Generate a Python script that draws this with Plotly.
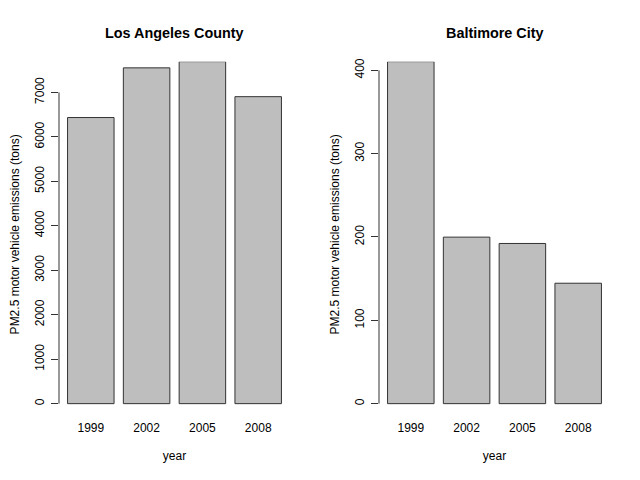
import plotly.graph_objects as go

years = ["1999", "2002", "2005", "2008"]
la_values = [6435, 7552, 7692, 6904]
balt_values = [410.4, 199.8, 192.2, 144.5]
la_ticks = [0, 1000, 2000, 3000, 4000, 5000, 6000, 7000]
balt_ticks = [0, 100, 200, 300, 400]
titles = ["Los Angeles County", "Baltimore City"]
ylabel = "PM2.5 motor vehicle emissions (tons)"
xlabel = "year"

W, H = 640, 480
FONT = "Liberation Sans, Arial, Helvetica, sans-serif"
BAR_FILL = "#BEBEBE"
LINE = "#333333"

# plot regions in pixels (R default margins)
reg_top, reg_bot = 59, 406.6
panels = [(59, 290), (379, 610)]

fig = go.Figure()
for i, (vals, ticks, (l, r)) in enumerate(zip([la_values, balt_values], [la_ticks, balt_ticks], panels)):
    xa = "x" if i == 0 else "x2"
    ya = "y" if i == 0 else "y2"
    fig.add_trace(go.Bar(
        x=years, y=vals, xaxis=xa, yaxis=ya, cliponaxis=False,
        marker=dict(color=BAR_FILL, line=dict(color=LINE, width=1)),
        showlegend=False, hoverinfo="x+y",
    ))
    m = max(vals)
    xkey = "xaxis" if i == 0 else "xaxis2"
    ykey = "yaxis" if i == 0 else "yaxis2"
    fig.update_layout(**{
        xkey: dict(
            domain=[l / W, r / W], anchor=ya, type="category",
            range=[-0.57, 3.57], showline=False, showgrid=False, zeroline=False,
            ticks="", ticklabelstandoff=12,
            tickfont=dict(family=FONT, size=12, color="black"),
            title=dict(text=xlabel, font=dict(family=FONT, size=12, color="black"), standoff=17),
        ),
        ykey: dict(
            domain=[1 - reg_bot / H, 1 - reg_top / H], anchor=xa,
            range=[-0.01 * m, m], showline=False, showgrid=False, zeroline=False,
            tickmode="array", tickvals=ticks, ticktext=[str(t) for t in ticks],
            ticks="outside", ticklen=7, tickcolor=LINE, tickwidth=1, tickangle=-90,
            ticklabelstandoff=2,
            tickfont=dict(family=FONT, size=12, color="black"),
            title=dict(text=ylabel, font=dict(family=FONT, size=12, color="black"), standoff=10),
        ),
    })
    # R-style axis line spanning first to last tick
    fig.add_shape(type="line", xref=f"{xa} domain", yref=ya,
                  x0=0, x1=0, y0=ticks[0], y1=ticks[-1],
                  line=dict(color=LINE, width=1))
    fig.add_annotation(text=f"<b>{titles[i]}</b>", xref="paper", yref="paper",
                       x=(l + r) / 2 / W, y=1 - 30 / H, xanchor="center", yanchor="middle",
                       showarrow=False, font=dict(family=FONT, size=14.4, color="black"))

fig.update_layout(
    width=W, height=H, margin=dict(l=0, r=0, t=0, b=0),
    paper_bgcolor="white", plot_bgcolor="white", bargap=1 - 1 / 1.2,
)

fig.write_html("out.html")
